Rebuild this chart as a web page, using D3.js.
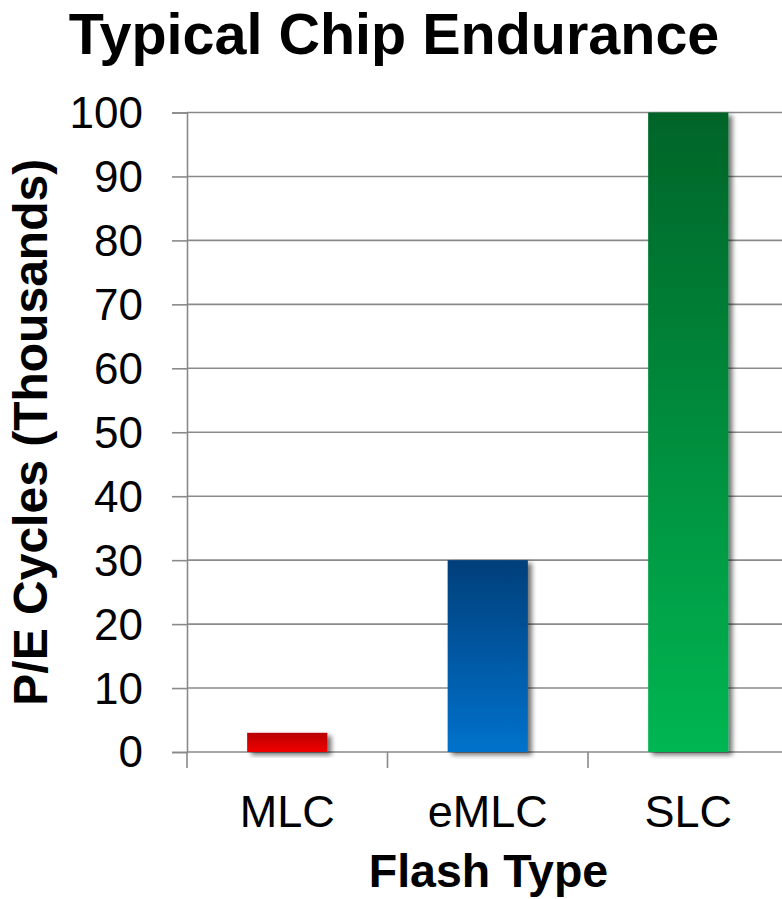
<!DOCTYPE html>
<html>
<head>
<meta charset="utf-8">
<script src="https://cdn.jsdelivr.net/npm/d3@7"></script>
<style>
  html, body { margin: 0; padding: 0; background: #fff; }
  svg { display: block; font-family: "Liberation Sans", Arial, sans-serif; }
</style>
</head>
<body>
<svg id="chart" width="782" height="899"></svg>
<script>
// Flash types and their typical program/erase endurance (thousands of cycles)
const categories = ["MLC", "eMLC", "SLC"];
const endurance = [3, 30, 100];
const yTicks = [0, 10, 20, 30, 40, 50, 60, 70, 80, 90, 100];
const topColors = ["#b80000", "#003f7a", "#006428"];
const bottomColors = ["#f20000", "#0072cc", "#00b652"];

const svg = d3.select("#chart");
const plotLeft = 187, plotRight = 788.5, plotTop = 112.5, plotBottom = 752;

const x = d3.scaleBand().domain(categories).range([plotLeft, plotRight]).paddingInner(0.6).paddingOuter(0.3);
const y = d3.scaleLinear().domain([0, 100]).range([plotBottom, plotTop]);

const defs = svg.append("defs");
categories.forEach((c, i) => {
  const g = defs.append("linearGradient").attr("id", "grad" + i)
    .attr("x1", 0).attr("y1", 0).attr("x2", 0).attr("y2", 1);
  g.append("stop").attr("offset", "0%").attr("stop-color", topColors[i]);
  g.append("stop").attr("offset", "100%").attr("stop-color", bottomColors[i]);
});
const shadow = defs.append("filter").attr("id", "shadow")
  .attr("x", "-20%").attr("y", "-20%").attr("width", "150%").attr("height", "150%");
shadow.append("feGaussianBlur").attr("in", "SourceAlpha").attr("stdDeviation", 2.5);
shadow.append("feOffset").attr("dx", 4).attr("dy", 3).attr("result", "off");
shadow.append("feComponentTransfer").append("feFuncA").attr("type", "linear").attr("slope", 0.55);
const merge = shadow.append("feMerge");
merge.append("feMergeNode");
merge.append("feMergeNode").attr("in", "SourceGraphic");

// Horizontal gridlines
svg.append("g").selectAll("line").data(yTicks).join("line")
  .attr("x1", plotLeft).attr("x2", 782)
  .attr("y1", d => y(d)).attr("y2", d => y(d))
  .attr("stroke", "#8a8a8a").attr("stroke-width", 1.6);

// Y axis
const yAxis = svg.append("g").attr("transform", `translate(${plotLeft},0)`)
  .call(d3.axisLeft(y).tickValues(yTicks).tickSize(15).tickPadding(29));
yAxis.select(".domain").attr("stroke", "#8a8a8a").attr("stroke-width", 1.6);
yAxis.selectAll(".tick line").attr("stroke", "#8a8a8a").attr("stroke-width", 1.6);
yAxis.selectAll(".tick text").attr("font-size", 44).attr("fill", "#000")
  .attr("font-family", "Liberation Sans, Arial, sans-serif").attr("dy", "0.34em");

// X axis: category boundary ticks below the baseline
const step = x.step();
const bounds = d3.range(categories.length + 1).map(i => plotLeft + i * step);
svg.append("g").selectAll("line").data(bounds).join("line")
  .attr("x1", d => d).attr("x2", d => d)
  .attr("y1", plotBottom).attr("y2", plotBottom + 16)
  .attr("stroke", "#8a8a8a").attr("stroke-width", 1.6);
svg.append("g").selectAll("text").data(categories).join("text")
  .attr("x", d => x(d) + x.bandwidth() / 2).attr("y", 827)
  .attr("text-anchor", "middle").attr("font-size", 45).text(d => d);

// Bars
svg.append("g").selectAll("rect").data(endurance).join("rect")
  .attr("x", (d, i) => x(categories[i]))
  .attr("width", x.bandwidth())
  .attr("y", d => y(d))
  .attr("height", d => y(0) - y(d))
  .attr("fill", (d, i) => `url(#grad${i})`)
  .attr("filter", "url(#shadow)");

// Titles
svg.append("text").attr("x", 394).attr("y", 54).attr("text-anchor", "middle")
  .attr("font-size", 57.5).attr("font-weight", "bold").text("Typical Chip Endurance");
svg.append("text").attr("x", 488.5).attr("y", 887).attr("text-anchor", "middle")
  .attr("font-size", 46.5).attr("font-weight", "bold").text("Flash Type");
svg.append("text").attr("transform", `translate(47,${(plotTop + plotBottom) / 2}) rotate(-90)`)
  .attr("text-anchor", "middle").attr("font-size", 48).attr("font-weight", "bold")
  .text("P/E Cycles (Thousands)");
</script>
</body>
</html>
